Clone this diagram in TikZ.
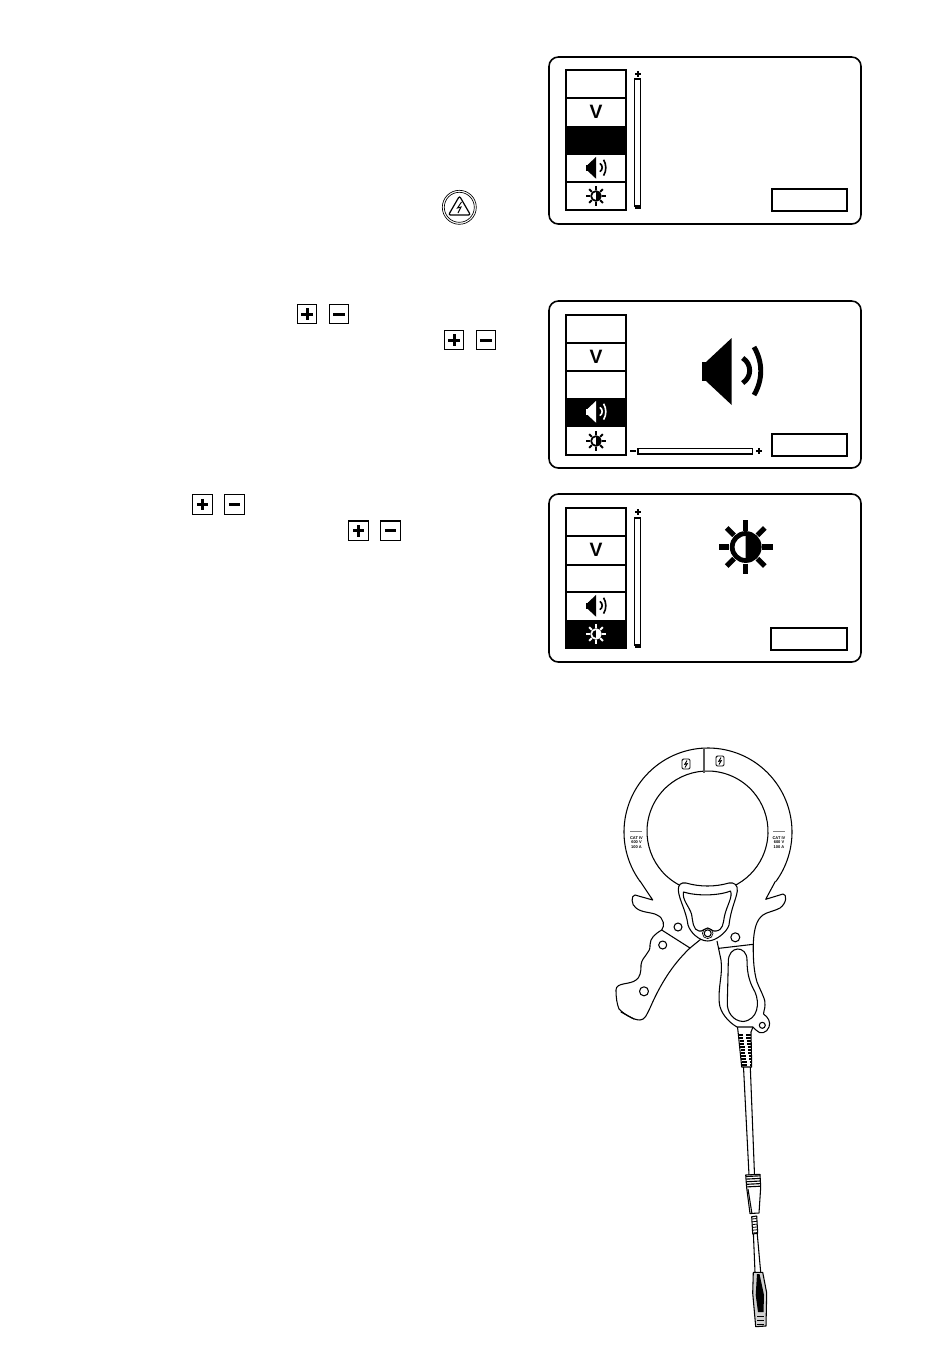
\documentclass[tikz,border=0pt]{standalone}
\usepackage{fontspec}
\setmainfont{Liberation Sans}
\usepackage{tikz}
\tikzset{x=0.75pt,y=-0.75pt,
  panelline/.style={line width=1.2pt,rounded corners=7pt},
  menuline/.style={line width=1.3pt},
  barline/.style={line width=0.8pt},
  keyline/.style={line width=0.8pt},
  clampline/.style={line width=0.8pt,line join=round},
  hatchline/.style={line width=0.85pt},
  vlabel/.style={font=\fontsize{14.5}{14.5}\selectfont\bfseries,inner sep=0pt},
  ratelabel/.style={font=\fontsize{3}{3.4}\selectfont\bfseries,inner sep=0pt,align=center}}
\newcommand{\speakicon}[4]{%
  \begin{scope}[shift={(#1,#2)},scale=#3]
    \fill[#4] (-29.3,-10) rectangle (-25.5,9);
    \fill[#4] (-25,-10) -- (.7,-34) -- (.7,33) -- (-25,9) -- cycle;
    \draw[#4,line width=#3*3.7pt] (11.7,-14) .. controls (21,-8) and (21,5) .. (11.7,11);
    \draw[#4,line width=#3*3.7pt] (23,-25) .. controls (32,-10) and (32,8) .. (23,23);
  \end{scope}}
\newcommand{\sunicon}[4]{%
  \begin{scope}[shift={(#1,#2)},scale=#3]
    \draw[#4,line width=#3*3.6pt] (0,0) circle[radius=13.5];
    \fill[#4] (0,-14) arc[start angle=-90,end angle=90,radius=14] -- cycle;
    \foreach \ang in {0,45,...,315}
      \draw[#4,line width=#3*3.9pt] (\ang:16.5) -- (\ang:27);
  \end{scope}}
\newcommand{\plusmin}[2]{%
  \draw[keyline] (#1,#2) rectangle ++(19.5,19.5);
  \draw[line width=2.2pt] ({#1+4},{#2+9.75}) -- ++(11.5,0);
  \draw[line width=2.2pt] ({#1+9.75},{#2+4}) -- ++(0,11.5);
  \draw[keyline] ({#1+32},#2) rectangle ++(19.5,19.5);
  \draw[line width=2.2pt] ({#1+36},{#2+9.75}) -- ++(11.5,0);}
\newcommand{\boltkey}[2]{%
  \draw[line width=.7pt,rounded corners=1pt] ({#1-4},{#2-5}) rectangle ({#1+4},{#2+5});
  \draw[line width=.7pt] ({#1+1},{#2-3.5}) -- ({#1-1.2},{#2+.3}) -- ({#1+1.2},{#2-.3}) -- ({#1-1},{#2+3.5});}
\begin{document}
\begin{tikzpicture}
  \useasboundingbox (0,0) rectangle (950,1364);
  % first panel
  \draw[panelline] (549,57) rectangle (861,224);
  \draw[menuline] (566,70) rectangle (626,210);
  \draw[menuline] (566,98) -- (626,98);
  \fill (565,125.5) rectangle (627,155);
  \draw[menuline] (566,182) -- (626,182);
  \node[vlabel] (vA) at (596,112) {V};
  \speakicon{596}{168}{.33}{black}
  \sunicon{596}{196}{.36}{black}
  \draw[barline] (634.5,79) rectangle (640.5,206);
  \draw[line width=1.4pt] (635,74) -- (641,74) (638,71) -- (638,77);
  \draw[line width=1.4pt] (635,207.8) -- (641,207.8);
  \draw[menuline] (772,189) rectangle (847,211);
  % second panel
  \draw[panelline] (549,301) rectangle (861,468);
  \draw[menuline] (566,315) rectangle (626,455);
  \draw[menuline] (566,343) -- (626,343);
  \draw[menuline] (566,371) -- (626,371);
  \fill (565,398) rectangle (627,427);
  \node[vlabel] (vB) at (596,357) {V};
  \speakicon{596}{412}{.33}{white}
  \sunicon{596}{441}{.36}{black}
  \speakicon{731}{372}{1}{black}
  \draw[barline] (638,448.5) rectangle (752.5,454);
  \draw[line width=1.4pt] (630,451) -- (636,451);
  \draw[line width=1.4pt] (756,451) -- (762,451) (759,448) -- (759,454);
  \draw[menuline] (772,434) rectangle (847,456);
  % third panel
  \draw[panelline] (549,494) rectangle (861,662);
  \draw[menuline] (566,508) rectangle (626,648);
  \draw[menuline] (566,536) -- (626,536);
  \draw[menuline] (566,565) -- (626,565);
  \draw[menuline] (566,592) -- (626,592);
  \fill (565,620) rectangle (627,649);
  \node[vlabel] (vC) at (596,550) {V};
  \speakicon{596}{606}{.33}{black}
  \sunicon{596}{634}{.36}{white}
  \sunicon{745.7}{547}{1}{black}
  \draw[barline] (634.5,518) rectangle (640.5,645);
  \draw[line width=1.4pt] (635,512) -- (641,512) (638,509) -- (638,515);
  \draw[line width=1.4pt] (635,647) -- (641,647);
  \draw[menuline] (771,628) rectangle (847,650);
  % keys in the text column
  \plusmin{297.3}{304.3}
  \plusmin{444.3}{330.3}
  \plusmin{192.8}{494.8}
  \plusmin{348.8}{521}
  \draw[line width=.5pt] (459.3,207.3) circle[radius=17];
  \draw[line width=.5pt] (459.3,207.3) circle[radius=15];
  \draw[line width=.9pt,rounded corners=1.5pt] (459.5,196) -- (470.5,215) -- (448.5,215) -- cycle;
  \draw[line width=.7pt] (461.5,202) -- (457.5,208) -- (461,207) -- (458,213);
  % clamp: ring
  \draw[clampline] (708,832) ++(144:84) arc[start angle=144,end angle=396,radius=84];
  \draw[clampline] (707.5,831.5) ++(115:60.5) arc[start angle=115,end angle=425,radius=60.5];
  \draw[line width=1.1pt,gray!70!black] (704,748) -- (704,773);
  \boltkey{686}{764}
  \boltkey{720}{761}
  \draw[line width=.7pt,gray] (630,831) -- (642,831);
  \draw[line width=.7pt,gray] (773,831) -- (785,831);
  \node[ratelabel] (rateL) at (636.5,842.5) {CAT IV\\600 V\\100 A};
  \node[ratelabel] (rateR) at (779,842.5) {CAT IV\\600 V\\100 A};
  % clamp: left jaw
  \draw[clampline] (640,881) -- (652.7,900) -- (635,895)
    .. controls (631,895) and (631,905) .. (636,908)
    .. controls (642,913) and (652,912) .. (657,915)
    .. controls (664,918) and (665,926) .. (661.7,930)
    .. controls (655,934) and (650,938) .. (650,945)
    .. controls (651,953) and (642,956) .. (641,965)
    .. controls (641,973) and (640,977) .. (636,980)
    .. controls (630,985) and (616,982) .. (616,990)
    .. controls (616,998) and (617,1004) .. (619,1009)
    .. controls (624,1014) and (633,1020) .. (640,1020)
    .. controls (645,1020) and (647,1014) .. (650,1008)
    .. controls (660,985) and (672,965) .. (690,948)
    -- (701,939);
  \draw[clampline] (661.7,930) -- (690,948);
  \draw[hatchline,line cap=round] (621,1012) -- (634,1019);
  \draw[clampline] (678,927) circle[radius=4];
  \draw[clampline] (662.7,945) circle[radius=4];
  \draw[clampline] (644,991.3) circle[radius=4.5];
  % clamp: right jaw
  \draw[clampline] (775.5,881) -- (765.7,899.3) -- (783,894)
    .. controls (787,894) and (787,903) .. (780,908)
    .. controls (772,912) and (767,912) .. (763,915)
    .. controls (756,920) and (754,930) .. (753.3,943)
    .. controls (753,960) and (754,972) .. (757,982)
    .. controls (761,992) and (766,1000) .. (765,1005)
    .. controls (765,1010) and (763,1012) .. (763.5,1014)
    .. controls (768,1017) and (771,1022) .. (769,1027)
    .. controls (767,1033) and (760,1035) .. (756,1030)
    -- (753,1027) -- (737,1027)
    .. controls (728,1022) and (720,1012) .. (719.3,1003)
    .. controls (718,985) and (723,975) .. (721,960)
    -- (717,941);
  \draw[clampline] (719,948.3) -- (753.3,944.3);
  \draw[clampline] (728.3,962)
    .. controls (728,945) and (747,945) .. (747,960)
    .. controls (747,975) and (750,983) .. (755,992)
    .. controls (760,1003) and (758,1020) .. (743,1021.5)
    .. controls (733,1021) and (727,1012) .. (727.3,1003) -- cycle;
  \draw[clampline] (762.3,1025.3) circle[radius=3];
  \draw[clampline] (735.3,937.3) circle[radius=4.5];
  % clamp: head over the jaws
  \draw[clampline,fill=white] (678.3,890)
    .. controls (678,885) and (681,882) .. (686,883)
    .. controls (700,887) and (715,887) .. (729,883)
    .. controls (734,882) and (738,885) .. (737.3,891)
    .. controls (736,900) and (731,908) .. (729,925)
    .. controls (727,932) and (716,941) .. (707.7,941)
    .. controls (699,941) and (690,932) .. (688,925)
    .. controls (686,910) and (679,900) .. (678.3,890) -- cycle;
  \draw[clampline] (683.5,892)
    .. controls (696,896) and (718,896) .. (730.5,891)
    .. controls (733,897) and (727,905) .. (724.5,916)
    .. controls (723,924) and (723,930) .. (716,931)
    .. controls (712,932) and (711,928) .. (707.7,928)
    .. controls (704,928) and (703,932) .. (699,931)
    .. controls (693,930) and (693,922) .. (691.5,914)
    .. controls (689,906) and (682,900) .. (683.5,892) -- cycle;
  \draw[clampline] (707.7,933.3) circle[radius=3.5];
  \draw[line width=.5pt] (707.7,933.3) circle[radius=5.3];
  % cable
  \draw[clampline] (737.5,1027) -- (738.3,1034) -- (741.7,1067) -- (751.7,1067) -- (751,1032) -- (753,1027);
  \foreach \i in {0,...,10}{
    \draw[hatchline] ({739+.3*\i},{1035+3*\i}) -- ({743+.4*\i},{1035+3*\i});
    \draw[hatchline] ({746+.4*\i},{1035+3*\i}) -- ({750.6+.1*\i},{1035+3*\i});
  }
  \draw[clampline] (743.5,1067) -- (749,1175);
  \draw[clampline] (750.3,1067) -- (754.5,1175);
  \draw[clampline] (745.7,1175) -- (760,1174.3) -- (760.7,1187) -- (759,1213) -- (750,1213.5) -- (746.7,1188) -- cycle;
  \draw[clampline] (748,1189) -- (752,1214);
  \foreach \i in {0,...,4}{
    \draw[hatchline] ({746.2+.1*\i},{1176.5+2.6*\i}) -- ({760+.1*\i},{1175.8+2.6*\i});
  }
  \draw[clampline] (751.7,1216.7) -- (756.7,1216) -- (757.7,1233.3) -- (752.7,1234) -- cycle;
  \foreach \i in {0,...,5}{
    \draw[hatchline,line width=.6pt] ({752+.2*\i},{1219+2.8*\i}) -- ({756.7+.2*\i},{1218.5+2.8*\i});
  }
  \draw[clampline] (753.4,1234) -- (755,1272.3);
  \draw[clampline] (757.2,1233.5) -- (760.7,1272.3);
  % plug at the cable end
  \draw[clampline,fill=gray!35] (753.3,1272.3) -- (762.7,1272.3) -- (766.7,1293) -- (766,1326) -- (755.7,1326.7) -- (752.7,1293) -- cycle;
  \fill[black] (757,1274) -- (759.5,1274) -- (764,1295) -- (763.5,1312) -- (758,1312) -- (755.7,1295) -- cycle;
  \draw[hatchline,line width=.6pt] (757,1316) -- (764,1316) (757,1320) -- (764,1320) (757,1324) -- (764,1324);
\end{tikzpicture}
\end{document}
